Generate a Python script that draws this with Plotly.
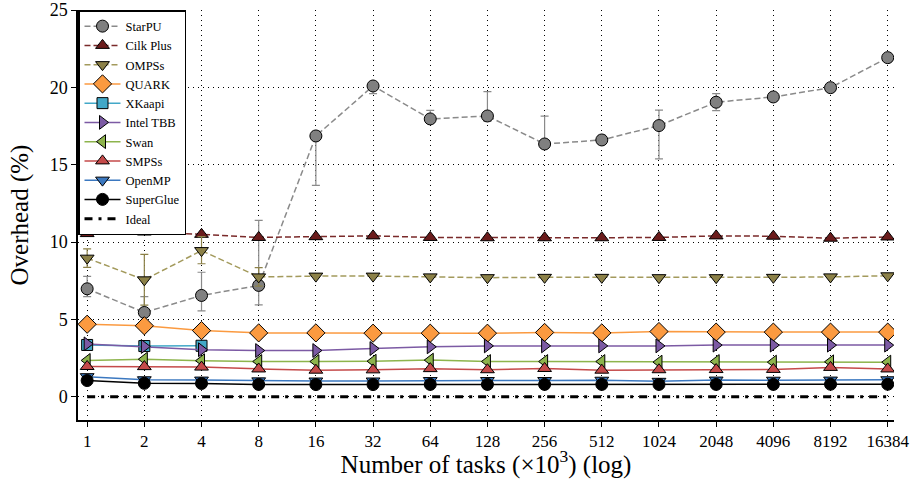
import plotly.graph_objects as go

tasks = ["1", "2", "4", "8", "16", "32", "64", "128", "256", "512", "1024", "2048", "4096", "8192", "16384"]
xi = list(range(len(tasks)))

starpu = [6.98, 5.45, 6.55, 7.2, 16.86, 20.09, 17.96, 18.15, 16.34, 16.6, 17.53, 19.04, 19.38, 19.98, 21.92]
starpu_err_plus = [0.8, 1.03, 1.5, 4.2, 0.3, 0.1, 0.55, 1.57, 1.8, 0.3, 1.0, 0.55, 0.0, 0.0, 0.0]
starpu_err_minus = [0.5, 1.0, 1.0, 1.26, 3.2, 0.5, 0.1, 0.35, 0.1, 0.2, 2.15, 0.55, 0.0, 0.0, 0.0]
cilk = [10.55, 10.65, 10.5, 10.3, 10.35, 10.4, 10.3, 10.28, 10.28, 10.28, 10.3, 10.4, 10.38, 10.25, 10.33]
ompss = [8.96, 7.56, 9.45, 7.75, 7.8, 7.8, 7.75, 7.7, 7.72, 7.72, 7.7, 7.7, 7.72, 7.75, 7.82]
ompss_err_plus = [0.6, 1.64, 0.9, 0.6, 0, 0, 0, 0, 0, 0, 0, 0, 0, 0, 0]
ompss_err_minus = [0.6, 1.64, 0.85, 0.6, 0, 0, 0, 0, 0, 0, 0, 0, 0, 0, 0]
quark = [4.69, 4.59, 4.28, 4.13, 4.13, 4.11, 4.11, 4.11, 4.16, 4.13, 4.22, 4.18, 4.18, 4.18, 4.18]
xkaapi = [3.35, 3.28, 3.3, None, None, None, None, None, None, None, None, None, None, None, None]
tbb = [3.42, 3.25, 3.04, 2.99, 2.99, 3.12, 3.23, 3.29, 3.29, 3.29, 3.29, 3.34, 3.34, 3.34, 3.34]
swan = [2.35, 2.43, 2.33, 2.28, 2.28, 2.3, 2.37, 2.28, 2.28, 2.28, 2.24, 2.28, 2.24, 2.26, 2.24]
smpss = [1.96, 1.95, 1.92, 1.8, 1.72, 1.74, 1.82, 1.75, 1.83, 1.72, 1.75, 1.76, 1.77, 1.9, 1.8]
openmp = [1.3, 1.1, 1.08, 1.03, 1.02, 1.02, 1.05, 1.05, 1.05, 1.07, 1.0, 1.08, 1.07, 1.08, 1.1]
superglue = [1.05, 0.87, 0.86, 0.8, 0.79, 0.79, 0.8, 0.8, 0.8, 0.8, 0.8, 0.8, 0.8, 0.81, 0.81]
ideal = [0] * len(tasks)

FONT = "Liberation Serif"

fig = go.Figure()

def add(name, y, color, symbol, size, dash="solid", lcolor=None, err=None):
    kw = {}
    if err is not None:
        kw["error_y"] = dict(type="data", symmetric=False, array=err[0], arrayminus=err[1],
                             color=err[2], thickness=1.2, width=4)
    fig.add_trace(go.Scatter(
        x=xi, y=y, name=name, mode="lines+markers",
        line=dict(color=lcolor or color, width=1.5, dash=dash),
        marker=dict(symbol=symbol, size=size, color=color, line=dict(color="black", width=1)),
        **kw))

add("StarPU", starpu, "#808080", "circle", 12, dash="6px,3px", lcolor="#8a8a8a",
    err=(starpu_err_plus, starpu_err_minus, "#8a8a8a"))
add("Cilk Plus", cilk, "#6b1c1c", "triangle-up", 12, dash="6px,3px", lcolor="#7a2a2a")
add("OMPSs", ompss, "#8c8148", "triangle-down", 12, dash="6px,3px", lcolor="#a39a5c",
    err=(ompss_err_plus, ompss_err_minus, "#8c8148"))
add("QUARK", quark, "#fb9a40", "diamond", 14)
add("XKaapi", xkaapi, "#42a8c8", "square", 11)
add("Intel TBB", tbb, "#7c5aa4", "triangle-right", 12)
add("Swan", swan, "#8db44c", "triangle-left", 12)
add("SMPSs", smpss, "#c54a4a", "triangle-up", 12)
add("OpenMP", openmp, "#3b78c0", "triangle-down", 12)
add("SuperGlue", superglue, "#000000", "circle", 12)

fig.add_trace(go.Scatter(x=xi, y=ideal, name="Ideal", mode="lines",
                         line=dict(color="black", width=3, dash="8px,6px,3px,6px")))

fig.update_layout(
    width=910, height=479,
    margin=dict(l=78, r=16, t=10, b=59),
    plot_bgcolor="white", paper_bgcolor="white",
    font=dict(family=FONT, color="black", size=17),
    showlegend=True,
    legend=dict(x=0, y=1, xanchor="left", yanchor="top",
                bgcolor="white", bordercolor="black", borderwidth=1.5,
                font=dict(family=FONT, size=12.5), tracegroupgap=0, itemwidth=36),
    xaxis=dict(range=[-0.16, 14.11], tickvals=xi, ticktext=tasks, automargin=False,
               showgrid=True, gridcolor="black", griddash="1px,4px", gridwidth=1,
               showline=True, linecolor="black", linewidth=1.5,
               ticks="outside", ticklen=5, tickcolor="black", zeroline=False,
               title=dict(text="Number of tasks (×10<sup>3</sup>) (log)", font=dict(size=25), standoff=4),
               tickfont=dict(size=17)),
    yaxis=dict(range=[-1.5, 25], tickvals=[0, 5, 10, 15, 20, 25], automargin=False,
               showgrid=True, gridcolor="black", griddash="1px,4px", gridwidth=1,
               showline=True, linecolor="black", linewidth=1.5,
               ticks="outside", ticklen=5, tickcolor="black", zeroline=False,
               title=dict(text="Overhead (%)", font=dict(size=25), standoff=14),
               tickfont=dict(size=18)),
)

fig.write_html("out.html")
